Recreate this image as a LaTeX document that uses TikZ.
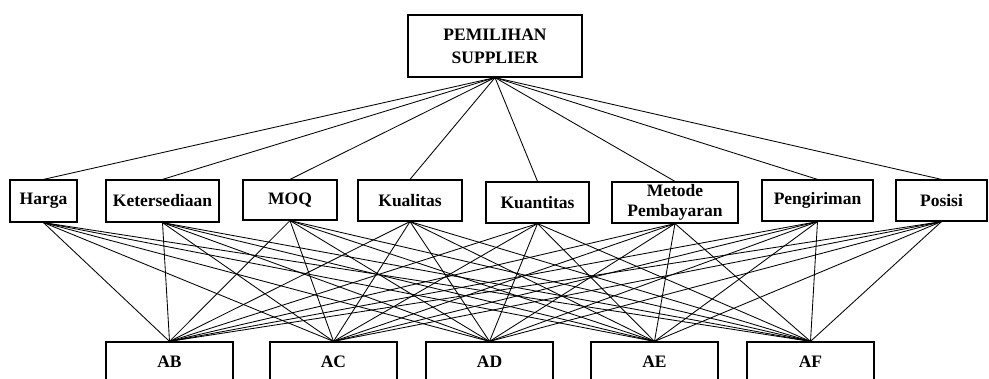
\documentclass[tikz,border=0pt]{standalone}
\usepackage{fontspec}
\setmainfont{Liberation Serif}
\begin{document}
\begin{tikzpicture}[x=1pt,y=-1pt,
  box/.style={draw,line width=1.2pt,inner sep=0pt,align=center,
    font=\fontsize{17.5}{23}\selectfont\bfseries},
  tight/.style={font=\fontsize{17.5}{20.5}\selectfont\bfseries},
  conn/.style={line width=0.85pt}]
\clip (0,0) rectangle (989,379);
\fill[white] (0,0) rectangle (989,379);
\node[box,minimum width=174pt,minimum height=62pt] (top) at (495,46) {PEMILIHAN\\SUPPLIER};
\node[box,minimum width=67pt,minimum height=42pt] (m1) at (43.5,201) {Harga};
\node[box,minimum width=113pt,minimum height=42pt] (m2) at (162.5,201) {Ketersediaan};
\node[box,minimum width=94pt,minimum height=40pt] (m3) at (290,200) {MOQ};
\node[box,minimum width=104pt,minimum height=41pt] (m4) at (410,200.5) {Kualitas};
\node[box,minimum width=103pt,minimum height=41pt] (m5) at (537.5,202.5) {Kuantitas};
\node[box,tight,minimum width=126pt,minimum height=41pt] (m6) at (675,202.5) {Metode\\[-1pt]Pembayaran};
\node[box,minimum width=111pt,minimum height=41pt] (m7) at (817.5,200.5) {Pengiriman};
\node[box,minimum width=91pt,minimum height=41pt] (m8) at (941.5,200.5) {Posisi};
\node[box,minimum width=127pt,minimum height=40pt] (b1) at (169.5,362) {AB};
\node[box,minimum width=127pt,minimum height=40pt] (b2) at (333.5,362) {AC};
\node[box,minimum width=127pt,minimum height=40pt] (b3) at (489.5,362) {AD};
\node[box,minimum width=127pt,minimum height=40pt] (b4) at (654.5,362) {AE};
\node[box,minimum width=127pt,minimum height=40pt] (b5) at (810.5,362) {AF};
\foreach \m in {m1,m2,m3,m4,m5,m6,m7,m8}{
  \draw[conn] (top.south) -- (\m.north);
  \foreach \b in {b1,b2,b3,b4,b5}{
    \draw[conn] (\m.south) -- (\b.north);
  }
}
\end{tikzpicture}
\end{document}
